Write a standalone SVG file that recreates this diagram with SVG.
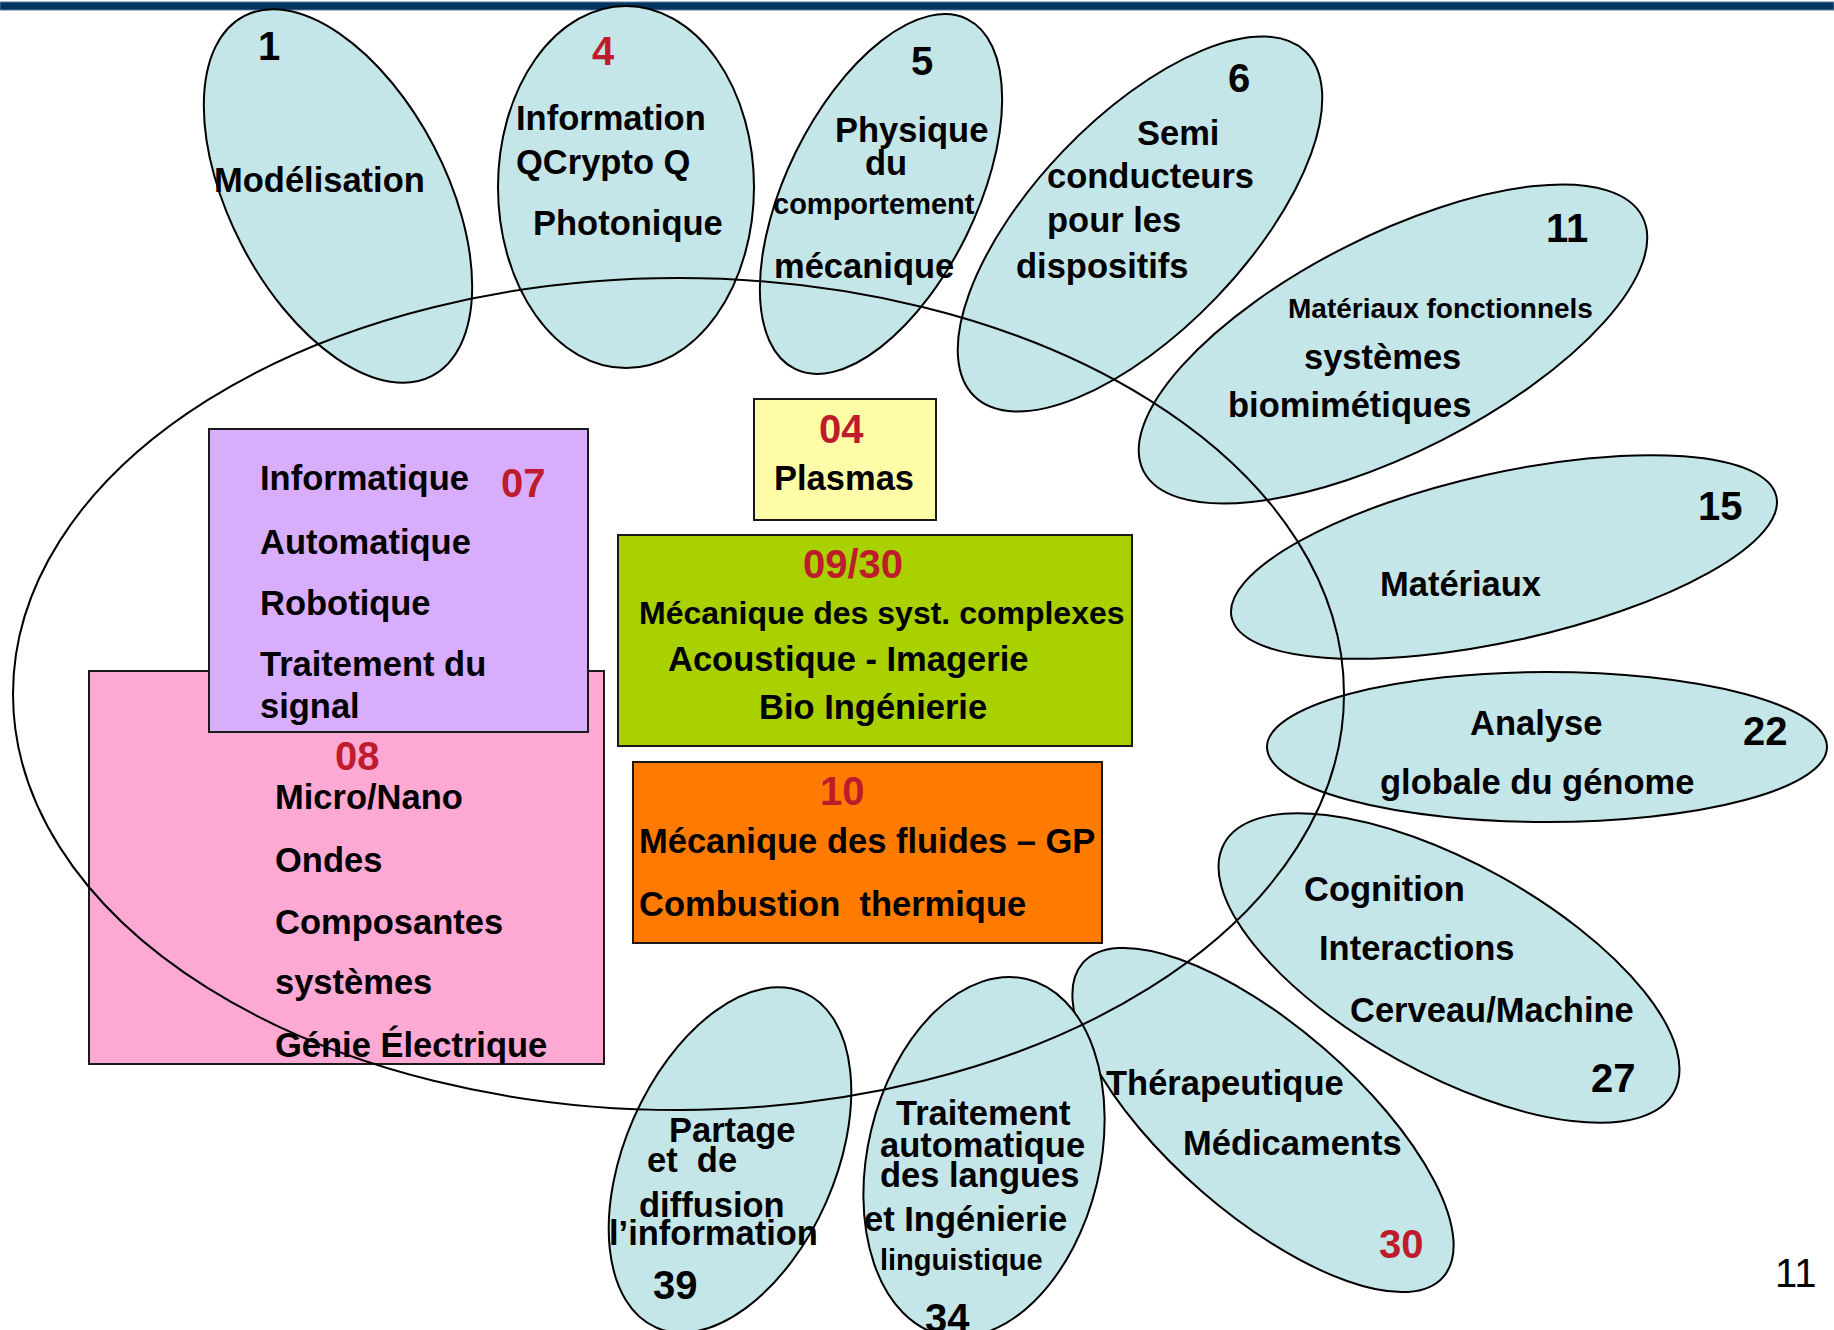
<svg xmlns="http://www.w3.org/2000/svg" width="1834" height="1330" viewBox="0 0 1834 1330">
<style>
.el{fill:#c5e6e8;stroke:#000;stroke-width:2}
.bx{stroke:#1a1a1a;stroke-width:2}
text{font-family:"Liberation Sans",Arial,Helvetica,sans-serif;font-weight:bold;font-size:34.5px;fill:#000}
.num{font-size:40px}
.red{fill:#be1b2d}
.sm{font-size:29px}
.sm2{font-size:28px}
.mid{font-size:32px}
</style>
<rect x="0" y="0" width="1834" height="1330" fill="#fff"/>
<rect x="0" y="2" width="1834" height="8" fill="#023460" stroke="#5c7fa3" stroke-width="1"/>

<g id="n1">
<ellipse class="el" cx="338" cy="196" rx="108" ry="203" transform="rotate(-27.6 338 196)"/>
<text class="num" x="258" y="60">1</text>
<text x="214" y="192">Modélisation</text>
</g>
<g id="n4">
<ellipse class="el" cx="626" cy="187" rx="128" ry="181"/>
<text class="num red" x="592" y="65">4</text>
<text x="516" y="130">Information</text>
<text x="516" y="174">QCrypto Q</text>
<text x="533" y="235">Photonique</text>
</g>
<g id="n5">
<ellipse class="el" cx="881" cy="194" rx="95" ry="195" transform="rotate(26.2 881 194)"/>
<text class="num" x="911" y="75">5</text>
<text x="835" y="142">Physique</text>
<text x="865" y="175">du</text>
<text class="sm" x="773" y="214">comportement</text>
<text x="774" y="278">mécanique</text>
</g>
<g id="n6">
<ellipse class="el" cx="1140" cy="224" rx="106" ry="239" transform="rotate(43.8 1140 224)"/>
<text class="num" x="1228" y="92">6</text>
<text x="1137" y="145">Semi</text>
<text x="1047" y="188">conducteurs</text>
<text x="1047" y="232">pour les</text>
<text x="1016" y="278">dispositifs</text>
</g>
<g id="n11">
<ellipse class="el" cx="1393" cy="344" rx="280" ry="108" transform="rotate(-27 1393 344)"/>
<text class="num" x="1546" y="242">11</text>
<text class="sm2" x="1288" y="318">Matériaux fonctionnels</text>
<text x="1304" y="369">systèmes</text>
<text x="1228" y="417">biomimétiques</text>
</g>
<g id="n15">
<ellipse class="el" cx="1504" cy="557" rx="279" ry="84" transform="rotate(-12.5 1504 557)"/>
<text class="num" x="1698" y="520">15</text>
<text x="1380" y="596">Matériaux</text>
</g>
<g id="n22">
<ellipse class="el" cx="1547" cy="747" rx="280" ry="75"/>
<text x="1470" y="735">Analyse</text>
<text class="num" x="1743" y="745">22</text>
<text x="1380" y="794">globale du génome</text>
</g>
<g id="n27">
<ellipse class="el" cx="1449" cy="968" rx="257" ry="105" transform="rotate(29 1449 968)"/>
<text x="1304" y="901">Cognition</text>
<text x="1319" y="960">Interactions</text>
<text x="1350" y="1022">Cerveau/Machine</text>
<text class="num" x="1591" y="1092">27</text>
</g>
<g id="n30">
<ellipse class="el" cx="1263" cy="1120" rx="239" ry="94" transform="rotate(41 1263 1120)"/>
<text x="1106" y="1095">Thérapeutique</text>
<text x="1183" y="1155">Médicaments</text>
<text class="num red" x="1379" y="1258">30</text>
</g>
<g id="n34">
<ellipse class="el" cx="984" cy="1157" rx="116" ry="183" transform="rotate(13.5 984 1157)"/>
<text x="896" y="1125">Traitement</text>
<text x="880" y="1157">automatique</text>
<text x="880" y="1187">des langues</text>
<text x="864" y="1231">et Ingénierie</text>
<text class="sm" x="880" y="1270">linguistique</text>
<text class="num" x="925" y="1332">34</text>
</g>
<g id="n39">
<ellipse class="el" cx="730" cy="1160" rx="105" ry="183" transform="rotate(23.9 730 1160)"/>
<text x="669" y="1142">Partage</text>
<text x="647" y="1172" xml:space="preserve">et  de</text>
<text x="639" y="1217">diffusion</text>
<text x="609" y="1245">l’information</text>
<text class="num" x="653" y="1299">39</text>
</g>

<g id="n08">
<rect class="bx" x="89" y="671" width="515" height="393" fill="#fda9d4"/>
<text class="num red" x="335" y="770">08</text>
<text x="275" y="809">Micro/Nano</text>
<text x="275" y="872">Ondes</text>
<text x="275" y="934">Composantes</text>
<text x="275" y="994">systèmes</text>
<text x="275" y="1057">Génie Électrique</text>
</g>
<g id="n07">
<rect class="bx" x="209" y="429" width="379" height="303" fill="#d8adfc"/>
<text x="260" y="490">Informatique</text>
<text class="num red" x="501" y="497">07</text>
<text x="260" y="554">Automatique</text>
<text x="260" y="615">Robotique</text>
<text x="260" y="676">Traitement du</text>
<text x="260" y="718">signal</text>
</g>
<g id="n04">
<rect class="bx" x="754" y="399" width="182" height="121" fill="#fffca8"/>
<text class="num red" x="819" y="443">04</text>
<text x="774" y="490">Plasmas</text>
</g>
<g id="n09">
<rect class="bx" x="618" y="535" width="514" height="211" fill="#a9d100"/>
<text class="num red" x="803" y="578">09/30</text>
<text class="mid" x="639" y="624">Mécanique des syst. complexes</text>
<text x="668" y="671">Acoustique - Imagerie</text>
<text x="759" y="719">Bio Ingénierie</text>
</g>
<g id="n10">
<rect class="bx" x="633" y="762" width="469" height="181" fill="#ff7b00"/>
<text class="num red" x="820" y="805">10</text>
<text x="639" y="853">Mécanique des fluides – GP</text>
<text x="639" y="916" xml:space="preserve">Combustion  thermique</text>
</g>

<g id="connectors">
<ellipse cx="678.5" cy="694" rx="665.5" ry="416" fill="none" stroke="#000" stroke-width="2"/>
</g>

<text x="1775" y="1287" style="font-weight:normal;font-size:40px">11</text>
</svg>
